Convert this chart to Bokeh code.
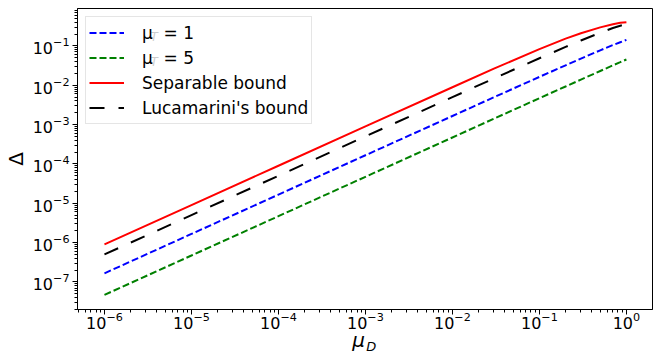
import math
from bokeh.plotting import figure
from bokeh.models import Range1d, FixedTicker, Label, Legend, LegendItem, LogTickFormatter, LogAxis
from bokeh.embed import file_html
from bokeh.resources import INLINE

# ---- data ----
mu_d = [1e-6, 1e-5, 1e-4, 1e-3, 1e-2, 3e-2, 0.1, 0.2, 0.3, 0.5, 0.7, 0.85, 1.0]
delta_mu_t1 = [1.66e-7, 1.66e-6, 1.66e-5, 1.66e-4, 1.65e-3, 4.95e-3, 1.63e-2, 3.2e-2, 4.75e-2, 7.7e-2, 0.105, 0.124, 0.142]
delta_mu_t5 = [4.7e-8, 4.7e-7, 4.7e-6, 4.7e-5, 4.7e-4, 1.41e-3, 4.68e-3, 9.3e-3, 1.39e-2, 2.3e-2, 3.2e-2, 3.85e-2, 4.5e-2]
separable = [9.0e-7, 9.0e-6, 9.0e-5, 9.0e-4, 8.9e-3, 2.63e-2, 8.3e-2, 0.153, 0.21, 0.295, 0.355, 0.385, 0.40]
lucamarini = [5.0e-7, 5.0e-6, 5.0e-5, 5.0e-4, 4.98e-3, 1.49e-2, 4.85e-2, 0.094, 0.137, 0.215, 0.285, 0.325, 0.36]

x_tick_exps = [-6, -5, -4, -3, -2, -1, 0]
y_tick_exps = [-7, -6, -5, -4, -3, -2, -1]
legend_labels = ["\u03bc\u00a0\u00a0= 1", "\u03bc\u00a0\u00a0= 5", "Separable bound", "Lucamarini's bound"]

FONT = "DejaVu Sans"

p = figure(width=656, height=356, x_axis_type="log", y_axis_type="log",
           x_range=Range1d(10 ** -6.31, 10 ** 0.3), y_range=Range1d(10 ** -7.7, 10 ** -0.05),
           output_backend="svg", toolbar_location=None,
           min_border_left=76, min_border_right=4, min_border_top=8, min_border_bottom=44)
p.grid.visible = False
p.outline_line_color = "black"
p.outline_line_width = 1
p.background_fill_color = "white"

def minor(exps_lo, exps_hi):
    return [m * 10.0 ** k for k in range(exps_lo, exps_hi + 1) for m in range(2, 10)]

p.xaxis.ticker = FixedTicker(ticks=[10.0 ** e for e in x_tick_exps], minor_ticks=minor(-7, 0))
p.yaxis.ticker = FixedTicker(ticks=[10.0 ** e for e in y_tick_exps], minor_ticks=minor(-8, -1))
for ax in (p.xaxis[0], p.yaxis[0]):
    ax.formatter = LogTickFormatter()
    ax.major_label_text_font = FONT
    ax.major_label_text_font_size = "16px"
    ax.major_label_text_color = "black"
    ax.axis_line_color = "black"
    ax.major_tick_line_color = "black"
    ax.minor_tick_line_color = "black"
    ax.major_tick_out = 5
    ax.major_tick_in = 0
    ax.minor_tick_out = 3
    ax.minor_tick_in = 0
    ax.major_label_standoff = 3
    ax.axis_label_text_font = FONT
    ax.axis_label_text_color = "black"

p.xaxis.major_label_standoff = -3

p.yaxis.axis_label = "\u0394"
p.yaxis.axis_label_text_font_size = "20px"
p.yaxis.axis_label_text_font_style = "normal"
p.yaxis.axis_label_standoff = 2

p.xaxis.axis_label = "\u03bc\u00a0\u00a0"
p.xaxis.axis_label_text_font_size = "20px"
p.xaxis.axis_label_text_font_style = "italic"
p.xaxis.axis_label_standoff = -4

ax2 = LogAxis(ticker=FixedTicker(ticks=[]), axis_line_alpha=0, major_tick_out=0, minor_tick_out=0,
              major_tick_in=0, minor_tick_in=0, major_label_text_font_size="0px", major_label_standoff=0,
              axis_label="\u00a0\u00a0\u00a0D", axis_label_text_font=FONT, axis_label_text_color="black",
              axis_label_text_font_size="13px", axis_label_text_font_style="italic",
              axis_label_standoff=-16)
p.add_layout(ax2, "below")

r1 = p.line(mu_d, delta_mu_t1, line_color="#0000ff", line_width=2, line_dash="7 3")
r2 = p.line(mu_d, delta_mu_t5, line_color="#008000", line_width=2, line_dash="7 3")
r3 = p.line(mu_d, separable, line_color="#ff0000", line_width=2)
r4 = p.line(mu_d, lucamarini, line_color="black", line_width=2, line_dash="15 14")

legend = Legend(items=[LegendItem(label=legend_labels[i], renderers=[r]) for i, r in enumerate([r1, r2, r3, r4])],
                location="top_left", margin=8, padding=3, spacing=0,
                glyph_width=35, glyph_height=25, label_height=25, label_standoff=18,
                label_text_font=FONT, label_text_font_size="17px", label_text_color="black",
                border_line_color="#cccccc", border_line_width=1,
                background_fill_color="white", background_fill_alpha=0.8)
p.add_layout(legend)

# subscripts for the legend labels
for yc in (31.5, 56.5):
    p.add_layout(Label(x=150, y=yc + 5, x_units="canvas", y_units="canvas", text="T",
                       text_font=FONT, text_font_size="12px", text_font_style="italic",
                       text_baseline="middle", text_color="black", level="overlay"))

open("out.html", "w").write(file_html(p, INLINE))
